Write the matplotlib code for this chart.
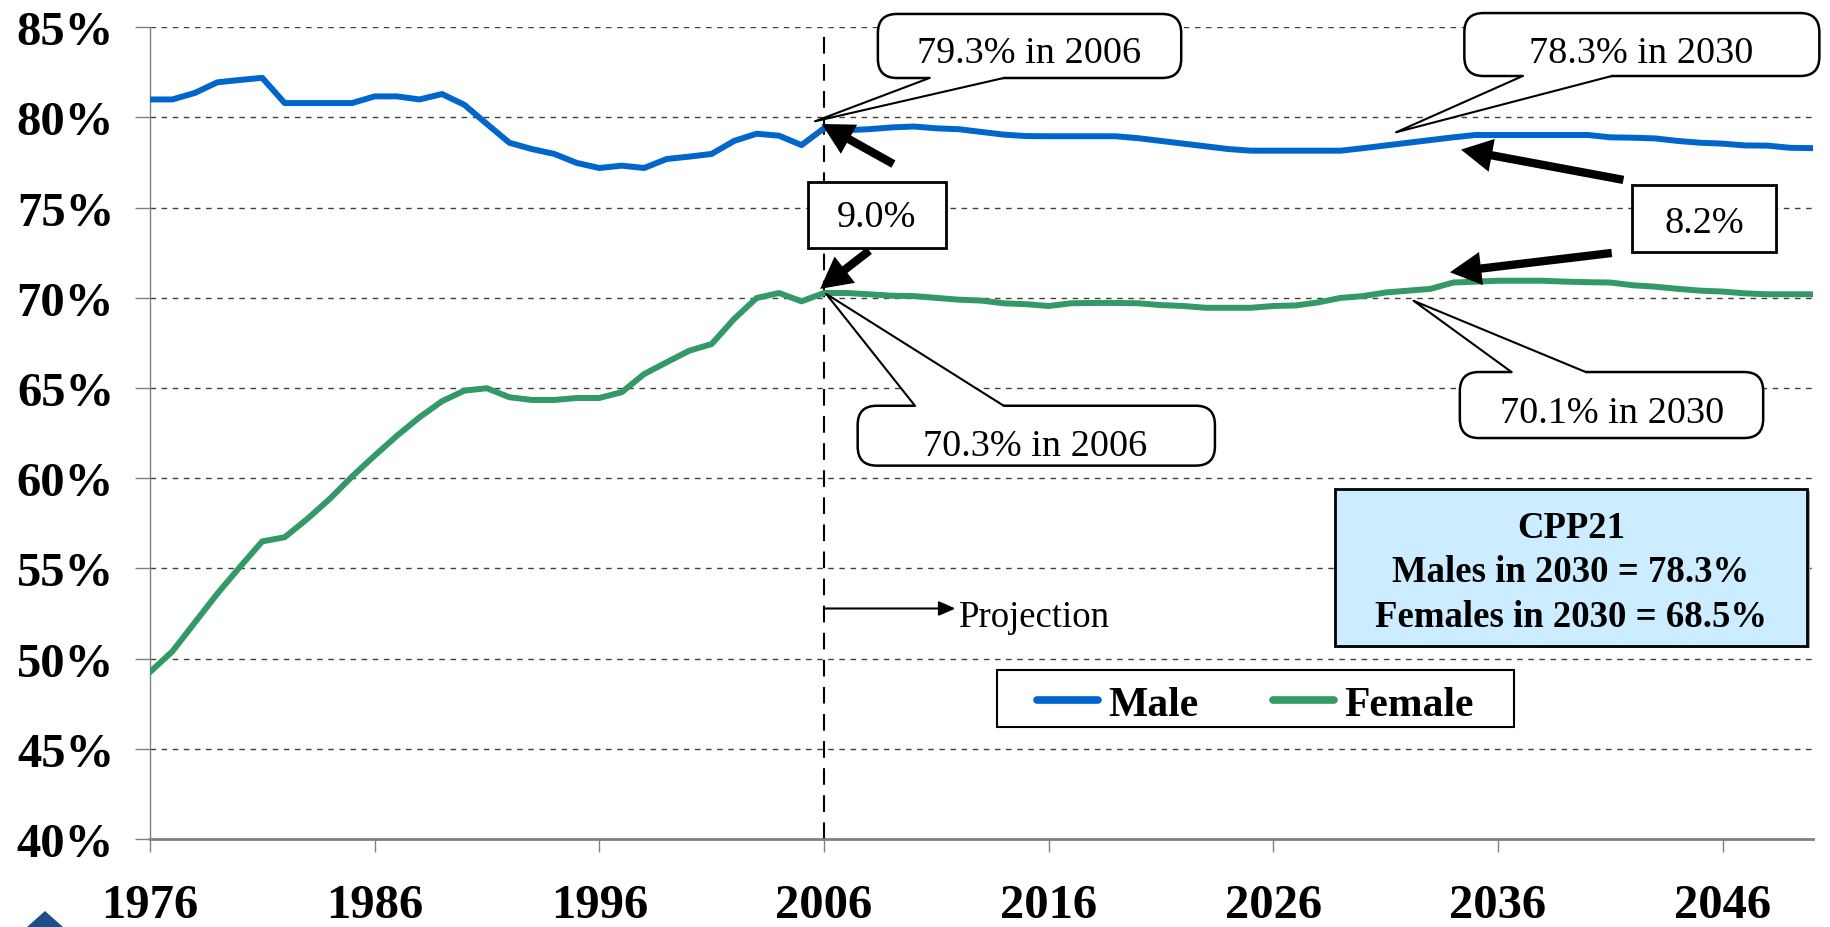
import matplotlib
matplotlib.use("Agg")
import matplotlib.pyplot as plt
from matplotlib.patches import FancyBboxPatch, Polygon, Rectangle, FancyArrowPatch, ArrowStyle
from matplotlib.lines import Line2D

plt.rcParams['font.family'] = ['Liberation Serif', 'DejaVu Serif']

years = list(range(1976, 2051))
male = [81.0, 81.0, 81.36, 81.95, 82.08, 82.2, 80.8, 80.8, 80.8, 80.8,
        81.17, 81.17, 81.0, 81.3, 80.7, 79.64, 78.6, 78.25, 77.98, 77.48,
        77.2, 77.33, 77.2, 77.7, 77.83, 77.98, 78.7, 79.1, 78.99, 78.47,
        79.4, 79.3, 79.35, 79.45, 79.5, 79.4, 79.35, 79.2, 79.05, 78.97,
        78.96, 78.96, 78.96, 78.96, 78.85, 78.7, 78.55, 78.4, 78.25, 78.16,
        78.16, 78.16, 78.16, 78.16, 78.3, 78.45, 78.6, 78.75, 78.9, 79.03,
        79.03, 79.03, 79.03, 79.03, 79.03, 78.9, 78.88, 78.84, 78.7, 78.6,
        78.55, 78.45, 78.44, 78.32, 78.3]
female = [49.25, 50.4, 52.0, 53.6, 55.07, 56.5, 56.73, 57.74, 58.85, 60.1,
          61.25, 62.36, 63.38, 64.27, 64.86, 64.99, 64.49, 64.34, 64.34, 64.45,
          64.45, 64.77, 65.78, 66.43, 67.07, 67.44, 68.83, 69.99, 70.27, 69.81,
          70.27, 70.27, 70.2, 70.12, 70.1, 70.0, 69.9, 69.85, 69.7, 69.65,
          69.55, 69.7, 69.72, 69.72, 69.7, 69.6, 69.55, 69.45, 69.45, 69.45,
          69.55, 69.58, 69.75, 70.0, 70.1, 70.3, 70.4, 70.5, 70.85, 70.9,
          70.95, 70.95, 70.95, 70.9, 70.87, 70.85, 70.7, 70.62, 70.5, 70.4,
          70.35, 70.25, 70.2, 70.2, 70.2]
series_names = ["Male", "Female"]
series_colors = ["#0066CC", "#339966"]
xticks = [1976, 1986, 1996, 2006, 2016, 2026, 2036, 2046]
yticks = [40, 45, 50, 55, 60, 65, 70, 75, 80, 85]
projection_year = 2006

fig = plt.figure(figsize=(18.3, 9.28), dpi=100)
ax = fig.add_axes([0.0819, 0.0948, 0.9905 - 0.0819, 0.9695 - 0.0948])
ax.set_xlim(1976, 2050)
ax.set_ylim(40, 85)

for sp in ['top', 'right']:
    ax.spines[sp].set_visible(False)
ax.spines['left'].set_color('#808080')
ax.spines['left'].set_linewidth(1.0)
ax.spines['bottom'].set_color('#808080')
ax.spines['bottom'].set_linewidth(2.0)

ax.set_xticks(xticks)
ax.set_xticklabels([str(t) for t in xticks])
ax.set_yticks(yticks)
ax.set_yticklabels([f"{t}%" for t in yticks])
ax.tick_params(axis='x', direction='out', length=9.5, width=1, color='#808080', pad=22)
ax.tick_params(axis='y', direction='out', length=10.8, width=1, color='#808080', pad=15)
for lab in ax.get_xticklabels() + ax.get_yticklabels():
    lab.set_fontsize(35)
    lab.set_fontweight('bold')

for y in yticks[1:]:
    ax.axhline(y, color='#404040', lw=1.0, ls=(0, (4, 4)), zorder=1)

ax.axvline(projection_year, color='black', lw=1.5, ls=(0, (8, 5)), zorder=2)

l1, = ax.plot(years, male, color=series_colors[0], lw=4.3, label=series_names[0], zorder=4)
l2, = ax.plot(years, female, color=series_colors[1], lw=4.3, label=series_names[1], zorder=4)

# pixels per data unit, used to keep rounded corners circular
px_x = 22.47
px_y = 18.04
aspect = px_x / px_y


def callout(x0, x1, y0, y1, b1, b2, tip, text, tx, ty):
    bub = FancyBboxPatch((x0, y0), x1 - x0, y1 - y0,
                         boxstyle="round,pad=0,rounding_size=0.85",
                         mutation_aspect=aspect,
                         facecolor='white', edgecolor='black', lw=1.8,
                         zorder=6, clip_on=False)
    ax.add_patch(bub)
    by = b1[1]
    inner = 0.25 if by == y0 else -0.25
    poly = Polygon([(b1[0], by + inner), b1, tip, b2, (b2[0], by + inner)],
                   closed=True, facecolor='white', edgecolor='none', zorder=7, clip_on=False)
    ax.add_patch(poly)
    ax.add_line(Line2D([b1[0], tip[0], b2[0]], [b1[1], tip[1], b2[1]],
                       color='black', lw=1.5, zorder=8, clip_on=False))
    ax.text(tx, ty, text, fontsize=27.5, ha='center', va='baseline', zorder=9, clip_on=False)


callout(2008.4, 2021.9, 82.19, 85.74, (2010.7, 82.19), (2014.0, 82.19), (2005.6, 79.79),
        "79.3% in 2006", 2015.13, 83.06)
callout(2034.5, 2050.3, 82.3, 85.79, (2037.1, 82.3), (2041.06, 82.3), (2031.46, 79.18),
        "78.3% in 2030", 2042.38, 83.06)
callout(2007.5, 2023.4, 60.7, 64.02, (2010.05, 64.02), (2014.0, 64.02), (2006.1, 70.22),
        "70.3% in 2006", 2015.4, 61.29)
callout(2034.3, 2047.8, 62.23, 65.89, (2036.6, 65.89), (2039.9, 65.89), (2032.24, 69.84),
        "70.1% in 2030", 2041.06, 63.1)


def box(x0, x1, y0, y1, text, tx, ty):
    ax.add_patch(Rectangle((x0, y0), x1 - x0, y1 - y0, facecolor='white',
                           edgecolor='black', lw=2.0, zorder=6, clip_on=False))
    ax.text(tx, ty, text, fontsize=27.5, ha='center', va='baseline', zorder=9)


box(2005.28, 2011.43, 72.75, 76.44, "9.0%", 2008.35, 74.01)
box(2041.98, 2048.36, 72.53, 76.27, "8.2%", 2045.17, 73.64)

astyle = ArrowStyle.Simple(head_length=0.75, head_width=0.8, tail_width=0.2)


def arrow(tail, tip):
    a = FancyArrowPatch(tail, tip, arrowstyle=astyle, mutation_scale=30,
                        color='black', lw=0, shrinkA=0, shrinkB=0, zorder=9, clip_on=False)
    ax.add_patch(a)


arrow((2009.09, 77.42), (2005.9, 79.64))
arrow((2008.02, 72.62), (2005.83, 70.5))
arrow((2041.58, 76.54), (2034.35, 78.22))
arrow((2041.06, 72.49), (2033.86, 71.42))

# Projection arrow
ax.annotate("", xy=(2011.85, 52.78), xytext=(2006.0, 52.78),
            arrowprops=dict(arrowstyle='-|>,head_length=0.5,head_width=0.22', color='black',
                            lw=1.5, shrinkA=0, shrinkB=0, mutation_scale=20), zorder=9)
ax.text(2012.0, 51.83, "Projection", fontsize=26.5, ha='left', va='baseline', zorder=9)

# CPP21 box
ax.add_patch(Rectangle((2028.74 + 0.1, 50.69 - 0.12), 2049.77 - 2028.74, 59.41 - 50.69,
                       facecolor='#A0A0A0', edgecolor='none', zorder=5, clip_on=False))
ax.add_patch(Rectangle((2028.74, 50.69), 2049.77 - 2028.74, 59.41 - 50.69,
                       facecolor='#CCECFF', edgecolor='black', lw=2.0, zorder=6, clip_on=False))
for txt, yy in [("CPP21", 56.73), ("Males in 2030 = 78.3%", 54.32), ("Females in 2030 = 68.5%", 51.83)]:
    ax.text(2039.25, yy, txt, fontsize=26.5, fontweight='bold', ha='center', va='baseline', zorder=9)

# Legend
ax.add_patch(Rectangle((2013.69, 46.2), 2036.71 - 2013.69, 49.39 - 46.2,
                       facecolor='white', edgecolor='black', lw=1.5, zorder=6))
h1 = Line2D([], [], color=series_colors[0], lw=5.5, solid_capstyle='round')
h2 = Line2D([], [], color=series_colors[1], lw=5.5, solid_capstyle='round')
leg = ax.legend([h1, h2], series_names, loc='center', bbox_to_anchor=(2025.2, 47.45),
                bbox_transform=ax.transData, ncol=2, frameon=False,
                prop={'family': 'Liberation Serif', 'weight': 'bold', 'size': 30},
                handlelength=1.45, handletextpad=0.25, columnspacing=1.8, borderpad=0.2)
leg.set_zorder(10)

# partial logo at bottom-left
fig.patches.append(Polygon([(27 / 1830, 0), (45 / 1830, 16 / 928), (63 / 1830, 0)],
                           closed=True, transform=fig.transFigure, facecolor='#1F4E8C',
                           edgecolor='none', figure=fig))

fig.savefig("out.png", dpi=100)
